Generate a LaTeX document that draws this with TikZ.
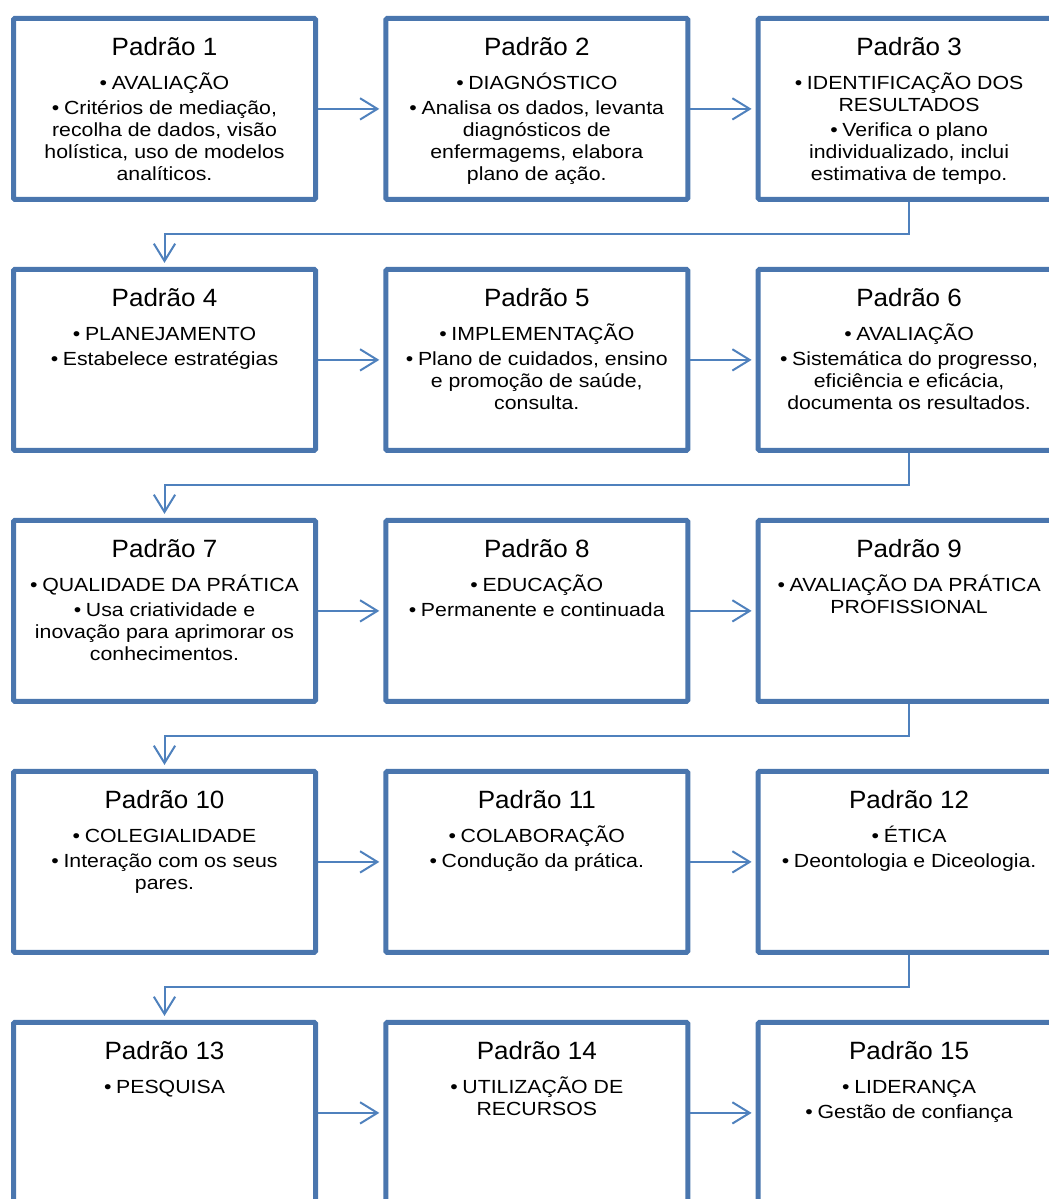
\documentclass[tikz,border=0pt]{standalone}
\usepackage{fontspec}
\setmainfont{Liberation Sans}
\newfontfamily\bodyfont[FakeStretch=1.12]{Liberation Sans}
\newfontfamily\titlefont[FakeStretch=1.04]{Liberation Sans}
\usetikzlibrary{arrows.meta, positioning, calc}

\definecolor{boxblue}{HTML}{4A76AE}
\definecolor{flowblue}{HTML}{4F81BD}
\newcommand{\ttl}[1]{{\titlefont\fontsize{18.75}{22}\selectfont #1}}
\newcommand{\bul}{\textbullet\hspace{3.5pt}}

\begin{document}
\begin{tikzpicture}[x=0.75pt, y=-0.75pt,
    box/.style={draw=boxblue, line width=3.75pt, rounded corners=1pt,
      minimum width=226.5pt, minimum height=135.75pt, inner sep=0pt},
    txt/.style={align=center, inner sep=0pt,
      font=\bodyfont\fontsize{14.25}{16.5}\selectfont},
    flow/.style={draw=flowblue, line width=1.5pt, shorten >=3pt,
      -{Straight Barb[length=13pt, width=16pt]}}]
  \useasboundingbox (0,0) rectangle (1049,1199);
  \clip (0,0) rectangle (1049,1199);

  % boxes
  \node[box] (p1) at (164.5,108.9) {};
  \node[box] (p2) at (536.8,108.9) {};
  \node[box] (p3) at (909.1,108.9) {};
  \node[box] (p4) at (164.5,359.9) {};
  \node[box] (p5) at (536.8,359.9) {};
  \node[box] (p6) at (909.1,359.9) {};
  \node[box] (p7) at (164.5,610.9) {};
  \node[box] (p8) at (536.8,610.9) {};
  \node[box] (p9) at (909.1,610.9) {};
  \node[box] (p10) at (164.5,861.9) {};
  \node[box] (p11) at (536.8,861.9) {};
  \node[box] (p12) at (909.1,861.9) {};
  \node[box] (p13) at (164.5,1112.9) {};
  \node[box] (p14) at (536.8,1112.9) {};
  \node[box] (p15) at (909.1,1112.9) {};

  % texts
  \node[txt, below=16pt of p1.north] (t1) {\ttl{Padrão 1}\\[9pt]
    \bul AVALIAÇÃO\\[2.25pt] \bul Critérios de mediação,\\ recolha de dados, visão\\
    holística, uso de modelos\\ analíticos.};
  \node[txt, below=16pt of p2.north] (t2) {\ttl{Padrão 2}\\[9pt]
    \bul DIAGNÓSTICO\\[2.25pt] \bul Analisa os dados, levanta\\ diagnósticos de\\
    enfermagems, elabora\\ plano de ação.};
  \node[txt, below=16pt of p3.north] (t3) {\ttl{Padrão 3}\\[9pt]
    \bul IDENTIFICAÇÃO DOS\\ RESULTADOS\\[2.25pt] \bul Verifica o plano\\
    individualizado, inclui\\ estimativa de tempo.};
  \node[txt, below=16pt of p4.north] (t4) {\ttl{Padrão 4}\\[9pt]
    \bul PLANEJAMENTO\\[2.25pt] \bul Estabelece estratégias};
  \node[txt, below=16pt of p5.north] (t5) {\ttl{Padrão 5}\\[9pt]
    \bul IMPLEMENTAÇÃO\\[2.25pt] \bul Plano de cuidados, ensino\\
    e promoção de saúde,\\ consulta.};
  \node[txt, below=16pt of p6.north] (t6) {\ttl{Padrão 6}\\[9pt]
    \bul AVALIAÇÃO\\[2.25pt] \bul Sistemática do progresso,\\
    eficiência e eficácia,\\ documenta os resultados.};
  \node[txt, below=16pt of p7.north] (t7) {\ttl{Padrão 7}\\[9pt]
    \bul QUALIDADE DA PRÁTICA\\[2.25pt] \bul Usa criatividade e\\
    inovação para aprimorar os\\ conhecimentos.};
  \node[txt, below=16pt of p8.north] (t8) {\ttl{Padrão 8}\\[9pt]
    \bul EDUCAÇÃO\\[2.25pt] \bul Permanente e continuada};
  \node[txt, below=16pt of p9.north] (t9) {\ttl{Padrão 9}\\[9pt]
    \bul AVALIAÇÃO DA PRÁTICA\\ PROFISSIONAL};
  \node[txt, below=16pt of p10.north] (t10) {\ttl{Padrão 10}\\[9pt]
    \bul COLEGIALIDADE\\[2.25pt] \bul Interação com os seus\\ pares.};
  \node[txt, below=16pt of p11.north] (t11) {\ttl{Padrão 11}\\[9pt]
    \bul COLABORAÇÃO\\[2.25pt] \bul Condução da prática.};
  \node[txt, below=16pt of p12.north] (t12) {\ttl{Padrão 12}\\[9pt]
    \bul ÉTICA\\[2.25pt] \bul Deontologia e Diceologia.};
  \node[txt, below=16pt of p13.north] (t13) {\ttl{Padrão 13}\\[9pt]
    \bul PESQUISA};
  \node[txt, below=16pt of p14.north] (t14) {\ttl{Padrão 14}\\[9pt]
    \bul UTILIZAÇÃO DE\\ RECURSOS};
  \node[txt, below=16pt of p15.north] (t15) {\ttl{Padrão 15}\\[9pt]
    \bul LIDERANÇA\\[2.25pt] \bul Gestão de confiança};

  % arrows along each row
  \draw[flow] (p1.east) -- (p2.west);
  \draw[flow] (p2.east) -- (p3.west);
  \draw[flow] (p4.east) -- (p5.west);
  \draw[flow] (p5.east) -- (p6.west);
  \draw[flow] (p7.east) -- (p8.west);
  \draw[flow] (p8.east) -- (p9.west);
  \draw[flow] (p10.east) -- (p11.west);
  \draw[flow] (p11.east) -- (p12.west);
  \draw[flow] (p13.east) -- (p14.west);
  \draw[flow] (p14.east) -- (p15.west);

  % elbows down to the next row
  \draw[flow] (p3.south) |- ($(p3.south)!.5!(p4.north)$) -| (p4.north);
  \draw[flow] (p6.south) |- ($(p6.south)!.5!(p7.north)$) -| (p7.north);
  \draw[flow] (p9.south) |- ($(p9.south)!.5!(p10.north)$) -| (p10.north);
  \draw[flow] (p12.south) |- ($(p12.south)!.5!(p13.north)$) -| (p13.north);
\end{tikzpicture}
\end{document}
